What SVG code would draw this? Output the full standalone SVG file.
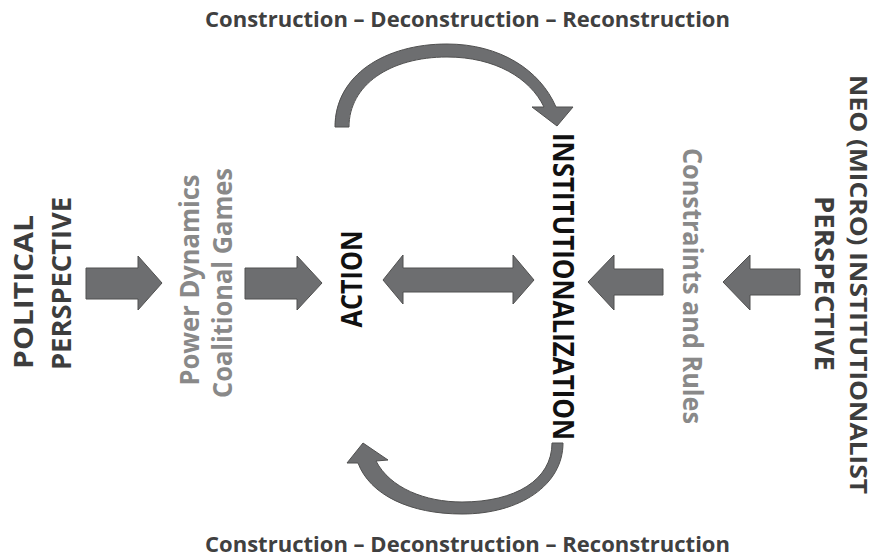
<svg xmlns="http://www.w3.org/2000/svg" width="877" height="559" viewBox="0 0 877 559">
<style>
.t{font-family:"Open Sans","Liberation Sans",sans-serif;font-weight:bold}
.title{font-size:22px;fill:#404040}
.persp{font-size:26px;fill:#3d3d3d}
.neo{font-size:24px;fill:#3d3d3d}
.grey{font-size:26px;fill:#898989}
.black{font-size:28px;fill:#111111}
.arr{fill:#6d6e70;stroke:#505050;stroke-width:1}
</style>
<rect width="877" height="559" fill="#ffffff"/>
<g id="title-top"><text class="t title" x="467.5" y="27" text-anchor="middle" textLength="525" lengthAdjust="spacingAndGlyphs">Construction – Deconstruction – Reconstruction</text></g>
<g id="title-bottom"><text class="t title" x="467.5" y="552" text-anchor="middle" textLength="525" lengthAdjust="spacingAndGlyphs">Construction – Deconstruction – Reconstruction</text></g>
<g id="political">
<text class="t persp" transform="translate(33,369) rotate(-90)" textLength="154" lengthAdjust="spacingAndGlyphs">POLITICAL</text>
<text class="t persp" transform="translate(71,370) rotate(-90)" textLength="173" lengthAdjust="spacingAndGlyphs">PERSPECTIVE</text>
</g>
<g id="power">
<text class="t grey" transform="translate(199,280) rotate(-90)" text-anchor="middle" textLength="211" lengthAdjust="spacingAndGlyphs">Power Dynamics</text>
<text class="t grey" transform="translate(232,283) rotate(-90)" text-anchor="middle" textLength="230" lengthAdjust="spacingAndGlyphs">Coalitional Games</text>
</g>
<g id="action"><text class="t black" transform="translate(362,279) rotate(-90)" text-anchor="middle" textLength="97" lengthAdjust="spacingAndGlyphs">ACTION</text></g>
<g id="institutionalization"><text class="t black" transform="translate(553,286.5) rotate(90)" text-anchor="middle" textLength="307" lengthAdjust="spacingAndGlyphs">INSTITUTIONALIZATION</text></g>
<g id="constraints"><text class="t grey" transform="translate(683,286) rotate(90)" text-anchor="middle" textLength="276" lengthAdjust="spacingAndGlyphs">Constraints and Rules</text></g>
<g id="neo">
<text class="t neo" transform="translate(850,284.5) rotate(90)" text-anchor="middle" textLength="419" lengthAdjust="spacingAndGlyphs">NEO (MICRO) INSTITUTIONALIST</text>
<text class="t persp" transform="translate(815,283.5) rotate(90)" text-anchor="middle" textLength="175" lengthAdjust="spacingAndGlyphs">PERSPECTIVE</text>
</g>
<g id="connectors">
<path class="arr" d="M86,268 H138 V256 L162,283 L138,310 V299 H86 Z"/>
<path class="arr" d="M245,268 H297 V256 L322,283 L297,310 V299 H245 Z"/>
<path class="arr" d="M383,280 L403,255 V268 H513 V255 L534,280 L513,304 V292 H403 V304 Z"/>
<path class="arr" d="M588,282 L614,255 V269 H663 V295 H614 V310 Z"/>
<path class="arr" d="M723,282 L750,255 V269 H800 V295 H750 V310 Z"/>
<path class="arr" d="M335,127 C335,75 385,44 447,44 C500,44 540,70 556,107 L573,107 L557,126 L532,107 L544,107 C530,78 495,57 447,57 C390,57 349,85 349,127 Z"/>
<path class="arr" d="M563,443 C563,485 520,514 462,514 C410,514 370,495 358,463 L347,463 L363,443 L388,460 L376,461 C390,488 425,502 462,502 C515,502 552,480 552,443 Z"/>
</g>
</svg>
